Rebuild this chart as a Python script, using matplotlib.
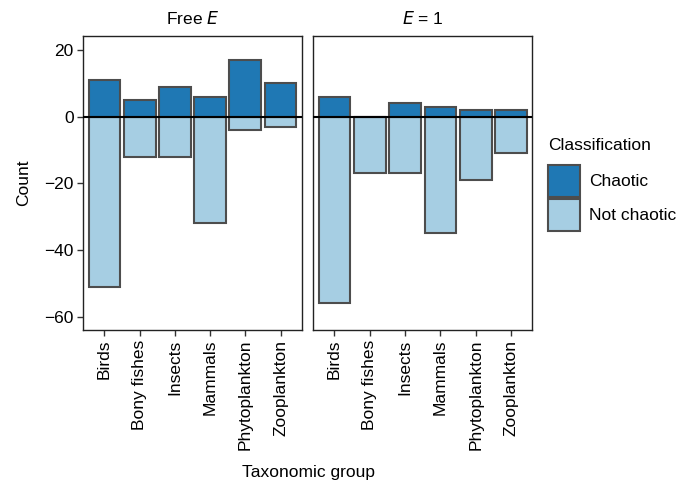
import matplotlib
matplotlib.use("Agg")
import matplotlib.pyplot as plt
from matplotlib.patches import Patch
import numpy as np

plt.rcParams['font.family'] = ['Liberation Sans', 'DejaVu Sans']

groups = ["Birds", "Bony fishes", "Insects", "Mammals", "Phytoplankton", "Zooplankton"]
panels = ["Free $\\it{E}$", "$\\it{E}$ = 1"]
chaotic_free = [11, 5, 9, 6, 17, 10]
not_chaotic_free = [-51, -12, -12, -32, -4, -3]
chaotic_e1 = [6, 0, 4, 3, 2, 2]
not_chaotic_e1 = [-56, -17, -17, -35, -19, -11]
yticks = [20, 0, -20, -40, -60]

c_chaotic = "#1f78b4"
c_not = "#a6cee3"
edge = "#4d4d4d"
fs = 12.5
lfs = 12.5

W, H = 677, 484
fig = plt.figure(figsize=(W/100, H/100), dpi=100)

def rect(l, r, t, b):
    return [l/W, 1-b/H, (r-l)/W, (b-t)/H]

ax1 = fig.add_axes(rect(83.3, 301.7, 36, 330))
ax2 = fig.add_axes(rect(313.3, 532.3, 36, 330))

data = [(chaotic_free, not_chaotic_free), (chaotic_e1, not_chaotic_e1)]
x = np.arange(1, len(groups)+1)
for i, (ax, (ch, nc), title) in enumerate(zip([ax1, ax2], data, panels)):
    ax.bar(x, nc, width=0.9, color=c_not, edgecolor=edge, linewidth=1.5, zorder=2)
    ax.bar(x, ch, width=0.9, color=c_chaotic, edgecolor=edge, linewidth=1.5, zorder=2)
    ax.axhline(0, color="black", linewidth=1.5, zorder=3)
    ax.set_xlim(0.4, 6.6)
    ax.set_ylim(-64.0, 24.2)
    ax.set_xticks(x)
    ax.set_xticklabels(groups, rotation=90, fontsize=fs)
    ax.set_title(title, fontsize=fs, pad=9)
    ax.tick_params(axis='both', length=4, color="#333333", width=1, pad=3)
    for s in ax.spines.values():
        s.set_linewidth(1)
        s.set_color("#222222")
    if i == 0:
        ax.set_yticks(yticks)
        ax.set_yticklabels([("\u2212%d" % -v) if v < 0 else str(v) for v in yticks], fontsize=fs)
        ax.set_ylabel("Count", fontsize=fs)
        ax.yaxis.set_label_coords((31 - 83.3) / 218.4, 0.5)
    else:
        ax.set_yticks(yticks)
        ax.tick_params(axis='y', left=False, labelleft=False)

fig.text(308/W, 1-472/H, "Taxonomic group", ha="center", va="center", fontsize=fs)

fig.text(548/W, 1-146/H, "Classification", ha="left", va="center", fontsize=lfs)
handles = [Patch(facecolor=c_chaotic, edgecolor=edge, linewidth=1.5, label="Chaotic"),
           Patch(facecolor=c_not, edgecolor=edge, linewidth=1.5, label="Not chaotic")]
leg = fig.legend(handles=handles, loc="upper left",
                 bbox_to_anchor=(548/W, 1-165/H), frameon=False, fontsize=lfs,
                 handlelength=1.84, handleheight=2.45,
                 handletextpad=0.55, labelspacing=0.1, borderaxespad=0, borderpad=0)

fig.savefig("out.png", dpi=100)
